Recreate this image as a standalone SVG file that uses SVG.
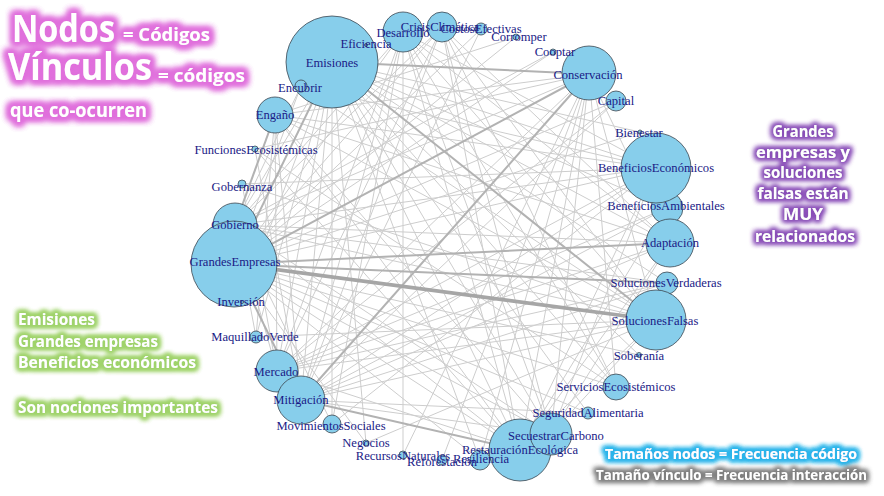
<svg xmlns="http://www.w3.org/2000/svg" width="884" height="496" viewBox="0 0 884 496">
<defs>
<style>
.e{stroke:#cdcdcd;stroke-width:1;fill:none}
.m{stroke:#b2b2b2;stroke-width:2;fill:none}
.t{stroke:#a6a6a6;stroke-width:3.6;fill:none}
.node circle{fill:#87CEEB;stroke:#3c4650;stroke-width:0.8}
.lab{font-family:"Liberation Serif","DejaVu Serif",serif;font-size:12.6px;fill:#1a1a86;text-anchor:middle}
.ann{font-family:"Open Sans","Liberation Sans",sans-serif;font-weight:bold;fill:#ffffff}
</style>
<filter id="gPink" x="-30%" y="-60%" width="160%" height="220%">
<feMorphology in="SourceAlpha" operator="dilate" radius="3" result="d"/>
<feGaussianBlur in="d" stdDeviation="3" result="b"/>
<feFlood flood-color="#e070dc"/>
<feComposite in2="b" operator="in" result="g"/>
<feMerge><feMergeNode in="g"/><feMergeNode in="g"/><feMergeNode in="g"/><feMergeNode in="SourceGraphic"/></feMerge>
</filter>
<filter id="gPurple" x="-30%" y="-60%" width="160%" height="220%">
<feMorphology in="SourceAlpha" operator="dilate" radius="2.2" result="d"/>
<feGaussianBlur in="d" stdDeviation="2.4" result="b"/>
<feFlood flood-color="#8a4fb8"/>
<feComposite in2="b" operator="in" result="g"/>
<feMerge><feMergeNode in="g"/><feMergeNode in="g"/><feMergeNode in="SourceGraphic"/></feMerge>
</filter>
<filter id="gGreen" x="-30%" y="-60%" width="160%" height="220%">
<feMorphology in="SourceAlpha" operator="dilate" radius="2.2" result="d"/>
<feGaussianBlur in="d" stdDeviation="2.4" result="b"/>
<feFlood flood-color="#9fd36a"/>
<feComposite in2="b" operator="in" result="g"/>
<feMerge><feMergeNode in="g"/><feMergeNode in="g"/><feMergeNode in="g"/><feMergeNode in="SourceGraphic"/></feMerge>
</filter>
<filter id="gCyan" x="-30%" y="-60%" width="160%" height="220%">
<feMorphology in="SourceAlpha" operator="dilate" radius="2.2" result="d"/>
<feGaussianBlur in="d" stdDeviation="2.4" result="b"/>
<feFlood flood-color="#2bb4ea"/>
<feComposite in2="b" operator="in" result="g"/>
<feMerge><feMergeNode in="g"/><feMergeNode in="g"/><feMergeNode in="g"/><feMergeNode in="SourceGraphic"/></feMerge>
</filter>
<filter id="gGray" x="-30%" y="-60%" width="160%" height="220%">
<feMorphology in="SourceAlpha" operator="dilate" radius="2.2" result="d"/>
<feGaussianBlur in="d" stdDeviation="2.4" result="b"/>
<feFlood flood-color="#7f7f7f"/>
<feComposite in2="b" operator="in" result="g"/>
<feMerge><feMergeNode in="g"/><feMergeNode in="g"/><feMergeNode in="SourceGraphic"/></feMerge>
</filter>
</defs>
<rect width="884" height="496" fill="#ffffff"/>

<g id="edges">
<line class="e" x1="332" y1="62" x2="670" y2="243"/>
<line class="e" x1="332" y1="62" x2="656" y2="168"/>
<line class="e" x1="332" y1="62" x2="667" y2="283"/>
<line class="e" x1="332" y1="62" x2="301" y2="400"/>
<line class="e" x1="332" y1="62" x2="277" y2="371"/>
<line class="e" x1="332" y1="62" x2="520" y2="450"/>
<line class="e" x1="332" y1="62" x2="551" y2="434"/>
<line class="e" x1="332" y1="62" x2="235" y2="225"/>
<line class="e" x1="332" y1="62" x2="242" y2="302"/>
<line class="e" x1="332" y1="62" x2="332" y2="424"/>
<line class="e" x1="332" y1="62" x2="616" y2="387"/>
<line class="e" x1="332" y1="62" x2="667" y2="208"/>
<line class="e" x1="234" y1="264" x2="656" y2="168"/>
<line class="e" x1="234" y1="264" x2="403" y2="32"/>
<line class="e" x1="234" y1="264" x2="442" y2="27"/>
<line class="e" x1="234" y1="264" x2="520" y2="450"/>
<line class="e" x1="234" y1="264" x2="551" y2="434"/>
<line class="e" x1="234" y1="264" x2="639" y2="355"/>
<line class="e" x1="234" y1="264" x2="616" y2="387"/>
<line class="e" x1="234" y1="264" x2="616" y2="101"/>
<line class="e" x1="234" y1="264" x2="516" y2="37"/>
<line class="e" x1="234" y1="264" x2="553" y2="52"/>
<line class="e" x1="234" y1="264" x2="640" y2="132"/>
<line class="e" x1="656" y1="168" x2="301" y2="400"/>
<line class="e" x1="656" y1="168" x2="277" y2="371"/>
<line class="e" x1="656" y1="168" x2="520" y2="450"/>
<line class="e" x1="656" y1="168" x2="551" y2="434"/>
<line class="e" x1="656" y1="168" x2="403" y2="32"/>
<line class="e" x1="656" y1="168" x2="235" y2="225"/>
<line class="e" x1="656" y1="168" x2="275" y2="115"/>
<line class="e" x1="656" y1="168" x2="332" y2="424"/>
<line class="e" x1="656" y1="168" x2="301" y2="86"/>
<line class="e" x1="656" y1="320" x2="301" y2="400"/>
<line class="e" x1="656" y1="320" x2="277" y2="371"/>
<line class="e" x1="656" y1="320" x2="520" y2="450"/>
<line class="e" x1="656" y1="320" x2="551" y2="434"/>
<line class="e" x1="656" y1="320" x2="403" y2="32"/>
<line class="e" x1="656" y1="320" x2="442" y2="27"/>
<line class="e" x1="656" y1="320" x2="275" y2="115"/>
<line class="e" x1="656" y1="320" x2="301" y2="86"/>
<line class="e" x1="656" y1="320" x2="589" y2="74"/>
<line class="e" x1="656" y1="320" x2="235" y2="225"/>
<line class="e" x1="656" y1="320" x2="366" y2="443"/>
<line class="e" x1="589" y1="74" x2="277" y2="371"/>
<line class="e" x1="589" y1="74" x2="520" y2="450"/>
<line class="e" x1="589" y1="74" x2="551" y2="434"/>
<line class="e" x1="589" y1="74" x2="235" y2="225"/>
<line class="e" x1="589" y1="74" x2="670" y2="243"/>
<line class="e" x1="589" y1="74" x2="275" y2="115"/>
<line class="e" x1="589" y1="74" x2="403" y2="455"/>
<line class="e" x1="589" y1="74" x2="616" y2="387"/>
<line class="e" x1="589" y1="74" x2="442" y2="460"/>
<line class="e" x1="301" y1="400" x2="551" y2="434"/>
<line class="e" x1="301" y1="400" x2="670" y2="243"/>
<line class="e" x1="301" y1="400" x2="403" y2="32"/>
<line class="e" x1="301" y1="400" x2="442" y2="27"/>
<line class="e" x1="301" y1="400" x2="275" y2="115"/>
<line class="e" x1="301" y1="400" x2="667" y2="208"/>
<line class="e" x1="301" y1="400" x2="667" y2="283"/>
<line class="e" x1="520" y1="450" x2="670" y2="243"/>
<line class="e" x1="520" y1="450" x2="403" y2="32"/>
<line class="e" x1="520" y1="450" x2="235" y2="225"/>
<line class="e" x1="520" y1="450" x2="275" y2="115"/>
<line class="e" x1="520" y1="450" x2="277" y2="371"/>
<line class="e" x1="520" y1="450" x2="442" y2="27"/>
<line class="e" x1="520" y1="450" x2="667" y2="208"/>
<line class="e" x1="520" y1="450" x2="255" y2="149"/>
<line class="e" x1="551" y1="434" x2="670" y2="243"/>
<line class="e" x1="551" y1="434" x2="403" y2="32"/>
<line class="e" x1="551" y1="434" x2="235" y2="225"/>
<line class="e" x1="551" y1="434" x2="275" y2="115"/>
<line class="e" x1="551" y1="434" x2="442" y2="27"/>
<line class="e" x1="670" y1="243" x2="277" y2="371"/>
<line class="e" x1="670" y1="243" x2="403" y2="32"/>
<line class="e" x1="670" y1="243" x2="442" y2="27"/>
<line class="e" x1="670" y1="243" x2="235" y2="225"/>
<line class="e" x1="403" y1="32" x2="277" y2="371"/>
<line class="e" x1="403" y1="32" x2="235" y2="225"/>
<line class="e" x1="403" y1="32" x2="332" y2="424"/>
<line class="e" x1="403" y1="32" x2="616" y2="387"/>
<line class="e" x1="403" y1="32" x2="403" y2="455"/>
<line class="e" x1="442" y1="27" x2="277" y2="371"/>
<line class="e" x1="442" y1="27" x2="235" y2="225"/>
<line class="e" x1="442" y1="27" x2="616" y2="387"/>
<line class="e" x1="275" y1="115" x2="277" y2="371"/>
<line class="e" x1="275" y1="115" x2="670" y2="243"/>
<line class="e" x1="235" y1="225" x2="277" y2="371"/>
<line class="e" x1="235" y1="225" x2="667" y2="283"/>
<line class="e" x1="235" y1="225" x2="332" y2="424"/>
<line class="e" x1="277" y1="371" x2="667" y2="283"/>
<line class="e" x1="277" y1="371" x2="667" y2="208"/>
<line class="e" x1="616" y1="101" x2="301" y2="400"/>
<line class="e" x1="616" y1="101" x2="277" y2="371"/>
<line class="e" x1="481" y1="29" x2="234" y2="264"/>
<line class="e" x1="481" y1="29" x2="301" y2="400"/>
<line class="e" x1="553" y1="52" x2="235" y2="225"/>
<line class="e" x1="516" y1="37" x2="275" y2="115"/>
<line class="e" x1="588" y1="413" x2="234" y2="264"/>
<line class="e" x1="588" y1="413" x2="301" y2="400"/>
<line class="e" x1="588" y1="413" x2="332" y2="62"/>
<line class="e" x1="480" y1="460" x2="332" y2="62"/>
<line class="e" x1="480" y1="460" x2="234" y2="264"/>
<line class="e" x1="480" y1="460" x2="589" y2="74"/>
<line class="e" x1="242" y1="184" x2="656" y2="320"/>
<line class="e" x1="242" y1="184" x2="656" y2="168"/>
<line class="e" x1="255" y1="149" x2="616" y2="387"/>
<line class="e" x1="255" y1="149" x2="589" y2="74"/>
<line class="e" x1="256" y1="337" x2="656" y2="320"/>
<line class="e" x1="256" y1="337" x2="332" y2="62"/>
<line class="e" x1="366" y1="443" x2="234" y2="264"/>
<line class="e" x1="366" y1="443" x2="332" y2="62"/>
<line class="e" x1="639" y1="355" x2="332" y2="62"/>
<line class="e" x1="640" y1="132" x2="332" y2="62"/>
<line class="e" x1="301" y1="86" x2="234" y2="264"/>
<line class="e" x1="301" y1="86" x2="235" y2="225"/>
<line class="e" x1="256" y1="337" x2="235" y2="225"/>
<line class="e" x1="256" y1="337" x2="275" y2="115"/>
<line class="e" x1="242" y1="184" x2="277" y2="371"/>
<line class="e" x1="255" y1="149" x2="301" y2="400"/>
<line class="m" x1="332" y1="62" x2="589" y2="74"/>
<line class="m" x1="332" y1="62" x2="656" y2="320"/>
<line class="m" x1="234" y1="264" x2="589" y2="74"/>
<line class="m" x1="301" y1="400" x2="520" y2="450"/>
<line class="m" x1="275" y1="115" x2="235" y2="225"/>
<line class="m" x1="589" y1="74" x2="301" y2="400"/>
<line class="m" x1="332" y1="62" x2="234" y2="264"/>
<line class="m" x1="234" y1="264" x2="670" y2="243"/>
<line class="m" x1="234" y1="264" x2="667" y2="283"/>
<line class="m" x1="234" y1="264" x2="301" y2="400"/>
<line class="t" x1="234" y1="264" x2="656" y2="320"/>
</g>

<g id="nodes">
<g id="node-Emisiones" class="node"><circle cx="332" cy="62" r="46"/></g>
<g id="node-Eficiencia" class="node"><circle cx="366" cy="45" r="1.5"/></g>
<g id="node-Desarrollo" class="node"><circle cx="403" cy="32" r="20"/></g>
<g id="node-CrisisClimatica" class="node"><circle cx="442" cy="27" r="15"/></g>
<g id="node-CostosEfectivas" class="node"><circle cx="481" cy="29" r="6"/></g>
<g id="node-Corromper" class="node"><circle cx="516" cy="37" r="3"/></g>
<g id="node-Cooptar" class="node"><circle cx="553" cy="52" r="3"/></g>
<g id="node-Conservacion" class="node"><circle cx="589" cy="73" r="27"/></g>
<g id="node-Capital" class="node"><circle cx="616" cy="101" r="10"/></g>
<g id="node-Bienestar" class="node"><circle cx="640" cy="132" r="2"/></g>
<g id="node-BeneficiosAmbientales" class="node"><circle cx="667" cy="208" r="16"/></g>
<g id="node-BeneficiosEconomicos" class="node"><circle cx="656" cy="168" r="35"/></g>
<g id="node-Adaptacion" class="node"><circle cx="670" cy="243" r="24"/></g>
<g id="node-SolucionesVerdaderas" class="node"><circle cx="667" cy="283" r="11"/></g>
<g id="node-SolucionesFalsas" class="node"><circle cx="656" cy="320" r="30"/></g>
<g id="node-Soberania" class="node"><circle cx="639" cy="355" r="2.5"/></g>
<g id="node-ServiciosEcosistemicos" class="node"><circle cx="616" cy="387" r="13"/></g>
<g id="node-SeguridadAlimentaria" class="node"><circle cx="588" cy="413" r="6"/></g>
<g id="node-RestauracionEcologica" class="node"><circle cx="520" cy="450" r="31"/></g>
<g id="node-SecuestrarCarbono" class="node"><circle cx="551" cy="434" r="21"/></g>
<g id="node-Resiliencia" class="node"><circle cx="480" cy="460" r="10"/></g>
<g id="node-Reforestacion" class="node"><circle cx="442" cy="460" r="5"/></g>
<g id="node-RecursosNaturales" class="node"><circle cx="403" cy="455" r="4"/></g>
<g id="node-Negocios" class="node"><circle cx="366" cy="443" r="3"/></g>
<g id="node-MovimientosSociales" class="node"><circle cx="332" cy="424" r="9"/></g>
<g id="node-Mercado" class="node"><circle cx="277" cy="371" r="21"/></g>
<g id="node-Mitigacion" class="node"><circle cx="301" cy="400" r="24"/></g>
<g id="node-MaquilladoVerde" class="node"><circle cx="256" cy="337" r="6"/></g>
<g id="node-Gobierno" class="node"><circle cx="235" cy="225" r="22"/></g>
<g id="node-GrandesEmpresas" class="node"><circle cx="234" cy="264" r="43"/></g>
<g id="node-Inversion" class="node"><circle cx="242" cy="302" r="1.5"/></g>
<g id="node-Gobernanza" class="node"><circle cx="242" cy="184" r="4"/></g>
<g id="node-FuncionesEcosistemicas" class="node"><circle cx="255" cy="149" r="3"/></g>
<g id="node-Engano" class="node"><circle cx="275" cy="115" r="18"/></g>
<g id="node-Encubrir" class="node"><circle cx="301" cy="86" r="6"/></g>
</g>

<g id="labels" class="lab">
<text id="label-Emisiones" x="332" y="67">Emisiones</text>
<text id="label-Eficiencia" x="366" y="48">Eficiencia</text>
<text id="label-Desarrollo" x="403" y="37">Desarrollo</text>
<text id="label-CrisisClimatica" x="440" y="31">CrisisClimática</text>
<text id="label-CostosEfectivas" x="481" y="33">CostosEfectivas</text>
<text id="label-Corromper" x="519" y="41">Corromper</text>
<text id="label-Cooptar" x="555" y="56">Cooptar</text>
<text id="label-Conservacion" x="588" y="79">Conservación</text>
<text id="label-Capital" x="616" y="105">Capital</text>
<text id="label-Bienestar" x="639" y="137">Bienestar</text>
<text id="label-BeneficiosEconomicos" x="656" y="172">BeneficiosEconómicos</text>
<text id="label-BeneficiosAmbientales" x="666" y="210">BeneficiosAmbientales</text>
<text id="label-Adaptacion" x="670" y="247">Adaptación</text>
<text id="label-SolucionesVerdaderas" x="666" y="287">SolucionesVerdaderas</text>
<text id="label-SolucionesFalsas" x="655" y="325">SolucionesFalsas</text>
<text id="label-Soberania" x="639" y="360">Soberanía</text>
<text id="label-ServiciosEcosistemicos" x="616" y="391">ServiciosEcosistémicos</text>
<text id="label-SeguridadAlimentaria" x="588" y="417">SeguridadAlimentaria</text>
<text id="label-SecuestrarCarbono" x="556" y="440">SecuestrarCarbono</text>
<text id="label-RestauracionEcologica" x="520" y="454">RestauraciónEcológica</text>
<text id="label-Resiliencia" x="481" y="463">Resiliencia</text>
<text id="label-Reforestacion" x="442" y="466">Reforestación</text>
<text id="label-RecursosNaturales" x="403" y="460">RecursosNaturales</text>
<text id="label-Negocios" x="366" y="447">Negocios</text>
<text id="label-MovimientosSociales" x="331" y="430">MovimientosSociales</text>
<text id="label-Mitigacion" x="301" y="404">Mitigación</text>
<text id="label-Mercado" x="276" y="376">Mercado</text>
<text id="label-MaquilladoVerde" x="255" y="341">MaquilladoVerde</text>
<text id="label-Inversion" x="241" y="306">Inversión</text>
<text id="label-GrandesEmpresas" x="235" y="266">GrandesEmpresas</text>
<text id="label-Gobierno" x="235" y="229">Gobierno</text>
<text id="label-Gobernanza" x="242" y="191">Gobernanza</text>
<text id="label-FuncionesEcosistemicas" x="256" y="154">FuncionesEcosistémicas</text>
<text id="label-Engano" x="275" y="119">Engaño</text>
<text id="label-Encubrir" x="300" y="92">Encubrir</text>
</g>

<g id="legend-top" class="ann" filter="url(#gPink)">
<text x="12" y="42" font-size="37" textLength="103" lengthAdjust="spacingAndGlyphs">Nodos</text>
<text x="123" y="41" font-size="17" textLength="87" lengthAdjust="spacingAndGlyphs">= Códigos</text>
<text x="8" y="80" font-size="37" textLength="144" lengthAdjust="spacingAndGlyphs">Vínculos</text>
<text x="158" y="82" font-size="17" textLength="87" lengthAdjust="spacingAndGlyphs">= códigos</text>
<text x="10" y="117" font-size="19" textLength="137" lengthAdjust="spacingAndGlyphs">que co-ocurren</text>
</g>

<g id="legend-left" class="ann" filter="url(#gGreen)" font-size="15.5">
<text x="18" y="325" textLength="77" lengthAdjust="spacingAndGlyphs">Emisiones</text>
<text x="18" y="347" textLength="140" lengthAdjust="spacingAndGlyphs">Grandes empresas</text>
<text x="18" y="368" textLength="178" lengthAdjust="spacingAndGlyphs">Beneficios  económicos</text>
<text x="18" y="413" textLength="200" lengthAdjust="spacingAndGlyphs">Son nociones importantes</text>
</g>

<g id="legend-right" class="ann" filter="url(#gPurple)" font-size="16" text-anchor="middle">
<text x="803" y="137" textLength="61" lengthAdjust="spacingAndGlyphs">Grandes</text>
<text x="803" y="158" textLength="94" lengthAdjust="spacingAndGlyphs">empresas y</text>
<text x="803" y="178" textLength="79" lengthAdjust="spacingAndGlyphs">soluciones</text>
<text x="803" y="199" textLength="91" lengthAdjust="spacingAndGlyphs">falsas están</text>
<text x="803" y="220" textLength="40" lengthAdjust="spacingAndGlyphs">MUY</text>
<text x="805" y="242" textLength="100" lengthAdjust="spacingAndGlyphs">relacionados</text>
</g>

<g id="legend-bottom" class="ann" font-size="15">
<text x="605" y="459" textLength="252" lengthAdjust="spacingAndGlyphs" filter="url(#gCyan)">Tamaños  nodos = Frecuencia código</text>
<text x="596" y="480" textLength="271" lengthAdjust="spacingAndGlyphs" filter="url(#gGray)">Tamaño vínculo = Frecuencia interacción</text>
</g>
</svg>
